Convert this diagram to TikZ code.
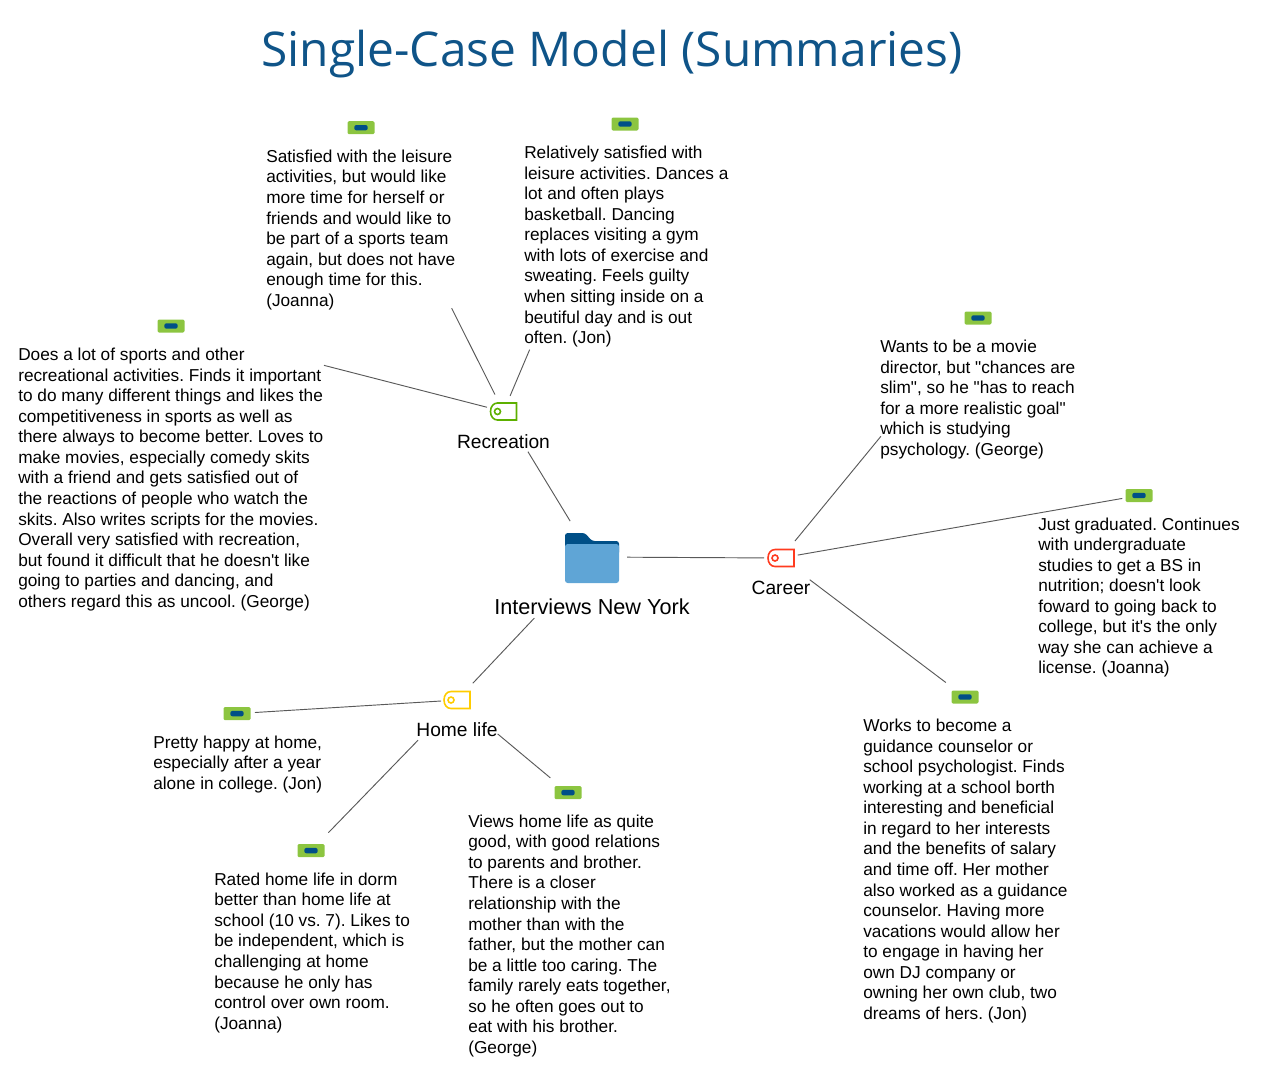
\documentclass[tikz,border=0pt]{standalone}
\usepackage{fontspec}
\newfontfamily\bodyfont{Liberation Sans}
\newfontfamily\titlefont{Open Sans}
\usetikzlibrary{positioning}
\definecolor{titleblue}{HTML}{0F5488}
\definecolor{notegreen}{HTML}{8CC540}
\definecolor{notedark}{HTML}{004F87}
\definecolor{folderlight}{HTML}{5FA5D6}
\definecolor{taggreen}{HTML}{5DB000}
\definecolor{tagred}{HTML}{FF3B1F}
\definecolor{tagyellow}{HTML}{FFCC00}
\tikzset{
  link/.style 2 args={draw=black!65,line width=0.7pt,shorten <=#1*0.75pt,shorten >=#2*0.75pt},
  noteicon/.style={fill=notegreen,rounded corners=1pt,inner sep=0pt,minimum width=20.25pt,minimum height=9.75pt,
    path picture={\fill[notedark,rounded corners=1.5pt] ([xshift=-5pt,yshift=-2pt]path picture bounding box.center) rectangle ++(10pt,4pt);}},
  notetext/.style={anchor=north west,xshift=#1*-0.75pt,inner sep=0pt,align=left,font=\bodyfont\frenchspacing\fontsize{12.94}{15.4}\selectfont},
  taglabel/.style={inner sep=0pt,font=\bodyfont\fontsize{14.4}{17}\selectfont},
  tagicon/.pic={
    \draw[line width=1.2pt,pic actions] (13,-8.5) -- (13,8.5) -- (-6,8.5) .. controls (-10,8.5) and (-13,5) .. (-13,0) .. controls (-13,-5) and (-10,-8.5) .. (-6,-8.5) -- cycle;
    \draw[line width=1.2pt,pic actions] (-6,0) circle [radius=3];
  },
  foldericon/.pic={
    \fill[notedark,rounded corners=2pt] (-27,-2) -- (-27,-24) -- (-7,-24) -- (0,-16) -- (27,-16) -- (27,-2) -- cycle;
    \fill[folderlight,rounded corners=2pt] (-27,26) -- (-27,-13) -- (27,-13) -- (27,26) -- cycle;
  },
}
\begin{document}
\begin{tikzpicture}[x=0.75pt,y=-0.75pt,node distance=11.4pt]
  \useasboundingbox (0,0) rectangle (1276,1086);
  \node[inner sep=0pt,text=titleblue,font=\titlefont\fontsize{35.9}{42}\selectfont] (title) at (612,54) {Single-Case Model (Summaries)};

  % folder and tags
  \path (592,557) coordinate (folder) pic {foldericon};
  \node[below=31pt of folder,taglabel,font=\bodyfont\fontsize{16.25}{19}\selectfont] (folderlabel) {Interviews New York};
  \path (503.5,411.5) coordinate (recreation) pic[taggreen] {tagicon};
  \node[below=17pt of recreation,taglabel] (recreationlabel) {Recreation};
  \path (781,558) coordinate (career) pic[tagred] {tagicon};
  \node[below=17pt of career,taglabel] (careerlabel) {Career};
  \path (457,700) coordinate (home) pic[tagyellow] {tagicon};
  \node[below=17pt of home,taglabel] (homelabel) {Home life};

  % recreation notes
  \node[noteicon] (recjoanna) at (361,127.7) {};
  \node[below=of recjoanna,notetext=95] (recjoannatext) {Satisfied with the leisure\\activities, but would like\\more time for herself or\\friends and would like to\\be part of a sports team\\again, but does not have\\enough time for this.\\(Joanna)};
  \node[noteicon] (recjon) at (625,124) {};
  \node[below=of recjon,notetext=101] (recjontext) {Relatively satisfied with\\leisure activities. Dances a\\lot and often plays\\basketball. Dancing\\replaces visiting a gym\\with lots of exercise and\\sweating. Feels guilty\\when sitting inside on a\\beutiful day and is out\\often. (Jon)};
  \node[noteicon] (recgeorge) at (171,326) {};
  \node[below=of recgeorge,notetext=153] (recgeorgetext) {Does a lot of sports and other\\recreational activities. Finds it important\\to do many different things and likes the\\competitiveness in sports as well as\\there always to become better. Loves to\\make movies, especially comedy skits\\with a friend and gets satisfied out of\\the reactions of people who watch the\\skits. Also writes scripts for the movies.\\Overall very satisfied with recreation,\\but found it difficult that he doesn't like\\going to parties and dancing, and\\others regard this as uncool. (George)};

  % career notes
  \node[noteicon] (cargeorge) at (978,318) {};
  \node[below=of cargeorge,notetext=98] (cargeorgetext) {Wants to be a movie\\director, but "chances are\\slim", so he "has to reach\\for a more realistic goal"\\which is studying\\psychology. (George)};
  \node[noteicon] (carjoanna) at (1139,495.5) {};
  \node[below=of carjoanna,notetext=101] (carjoannatext) {Just graduated. Continues\\with undergraduate\\studies to get a BS in\\nutrition; doesn't look\\foward to going back to\\college, but it's the only\\way she can achieve a\\license. (Joanna)};
  \node[noteicon] (carjon) at (965,697) {};
  \node[below=of carjon,notetext=102] (carjontext) {Works to become a\\guidance counselor or\\school psychologist. Finds\\working at a school borth\\interesting and beneficial\\in regard to her interests\\and the benefits of salary\\and time off. Her mother\\also worked as a guidance\\counselor. Having more\\vacations would allow her\\to engage in having her\\own DJ company or\\owning her own club, two\\dreams of hers. (Jon)};

  % home life notes
  \node[noteicon] (homejon) at (237,713.6) {};
  \node[below=of homejon,notetext=84] (homejontext) {Pretty happy at home,\\especially after a year\\alone in college. (Jon)};
  \node[noteicon] (homejoanna) at (311,850.6) {};
  \node[below=of homejoanna,notetext=97] (homejoannatext) {Rated home life in dorm\\better than home life at\\school (10 vs. 7). Likes to\\be independent, which is\\challenging at home\\because he only has\\control over own room.\\(Joanna)};
  \node[noteicon] (homegeorge) at (568,792.6) {};
  \node[below=of homegeorge,notetext=100] (homegeorgetext) {Views home life as quite\\good, with good relations\\to parents and brother.\\There is a closer\\relationship with the\\mother than with the\\father, but the mother can\\be a little too caring. The\\family rarely eats together,\\so he often goes out to\\eat with his brother.\\(George)};

  % connectors
  \draw[link={47}{42}] (recreation) -- (folder);
  \draw[link={35}{17}] (folder) -- (career);
  \draw[link={84}{23}] (folder) -- (home);
  \draw[link={19}{202}] (recreation) -- (recjoanna.center);
  \draw[link={17}{245}] (recreation) -- (recjon.center);
  \draw[link={17}{158}] (recreation) -- (recgeorge.center);
  \draw[link={22}{153}] (career) -- (cargeorge.center);
  \draw[link={17}{17}] (career) -- (carjoanna.center);
  \draw[link={36}{24}] (career) -- (carjon.center);
  \draw[link={16}{18}] (home) -- (homejon.center);
  \draw[link={56}{25}] (home) -- (homejoanna.center);
  \draw[link={53}{23}] (home) -- (homegeorge.center);
\end{tikzpicture}
\end{document}
